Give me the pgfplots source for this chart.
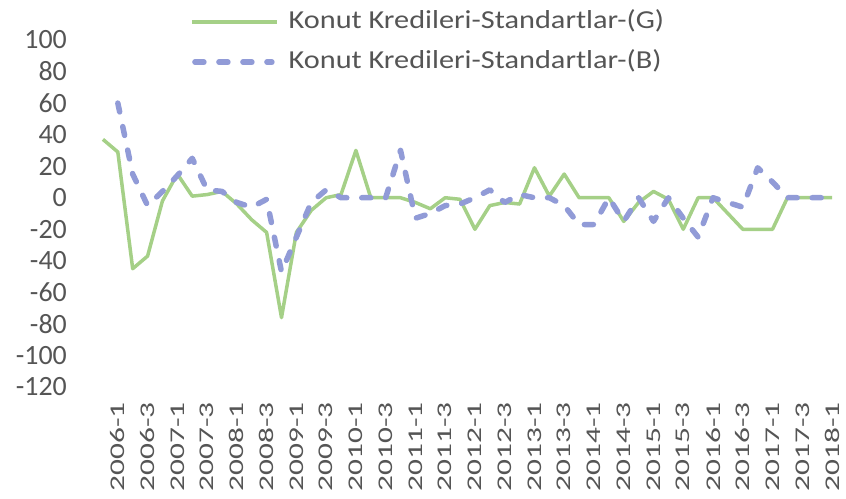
\documentclass[border=0pt]{standalone}
\usepackage{fontspec}
\setmainfont{Carlito}
\usepackage{graphicx}
\usepackage{pgfplots}
\usepackage{pgfplotstable}
\pgfplotsset{compat=1.18}
\definecolor{cG}{RGB}{165,208,135}
\definecolor{cB}{RGB}{145,155,215}
\definecolor{cT}{RGB}{85,85,85}
\newcommand{\xl}[1]{\scalebox{1.5}[1]{#1}}
\pgfplotsset{
  gleg/.style={legend image code/.code={\draw[##1] (0bp,0bp) -- (85bp,0bp);}},
  bleg/.style={legend image code/.code={\draw[##1] (3bp,0bp) -- (80bp,0bp);}},
}
\pgfplotstableread{
x G B
0 37 nan
1 29 60
2 -45 15
3 -37 -5
4 -2 4
5 15 14
6 1 25
7 2 5
8 4 4
9 -4 -3
10 -14 -6
11 -22 -1
12 -76 -47
13 -22 -25
14 -8 -3
15 0 5
16 2 0
17 30 0
18 0 0
19 0 0
20 0 30
21 -3 -13
22 -7 -10
23 0 -5
24 -1 -4
25 -20 0
26 -5 5
27 -3 -3
28 -4 2
29 19 0
30 1 0
31 15 -5
32 0 -17
33 0 -17
34 0 0
35 -15 -15
36 -3 0
37 4 -15
38 -1 0
39 -20 -13
40 0 -25
41 0 0
42 -10 -3
43 -20 -6
44 -20 19
45 -20 10
46 0 0
47 0 0
48 0 0
49 0 0
}\datatable
\begin{document}
\begin{tikzpicture}
\useasboundingbox (-95.5bp,-112bp) rectangle (750.5bp,387bp);
\begin{axis}[
 anchor=south west, at={(0,0)},
 scale only axis, width=744bp, height=347bp,
 xmin=-0.5, xmax=49.5, ymin=-120, ymax=100,
 axis line style={draw=none}, tick style={draw=none}, major tick length=0pt,
 ytick={-120,-100,-80,-60,-40,-20,0,20,40,60,80,100},
 yticklabels={-120,-100,-80,-60,-40,-20,0,20,40,60,80,100},
 yticklabel style={font=\fontsize{28}{28}\selectfont, text=cT, inner sep=0pt, anchor=east},
 yticklabel shift=28.5bp,
 xtick={1,3,...,49},
 xticklabels={\xl{2006-1},\xl{2006-3},\xl{2007-1},\xl{2007-3},\xl{2008-1},\xl{2008-3},\xl{2009-1},\xl{2009-3},\xl{2010-1},\xl{2010-3},\xl{2011-1},\xl{2011-3},\xl{2012-1},\xl{2012-3},\xl{2013-1},\xl{2013-3},\xl{2014-1},\xl{2014-3},\xl{2015-1},\xl{2015-3},\xl{2016-1},\xl{2016-3},\xl{2017-1},\xl{2017-3},\xl{2018-1}},
 xticklabel style={font=\fontsize{21}{21}\selectfont, text=cT, rotate=90, anchor=east, inner sep=0pt},
 xticklabel shift=15bp,
 clip=false,
 legend cell align=left,
 legend style={at={(0.127,1.0853)}, anchor=north west, draw=none, fill=none, inner sep=0pt,
   row sep=17bp, column sep=10bp, font=\fontsize{26}{30}\selectfont, text=cT,
   nodes={inner sep=0pt, text height=18bp, text depth=5bp}},
]
\addplot[cG, line width=3.5bp, line join=round, gleg] table[x=x,y=G] {\datatable};
\addlegendentry{\scalebox{1.17}[1]{Konut Kredileri-Standartlar-(G)}}
\addplot[cB, line width=5.5bp, line cap=round, line join=round, dash pattern=on 9bp off 15bp, bleg] table[x=x,y=B] {\datatable};
\addlegendentry{\scalebox{1.17}[1]{Konut Kredileri-Standartlar-(B)}}
\end{axis}
\end{tikzpicture}
\end{document}
